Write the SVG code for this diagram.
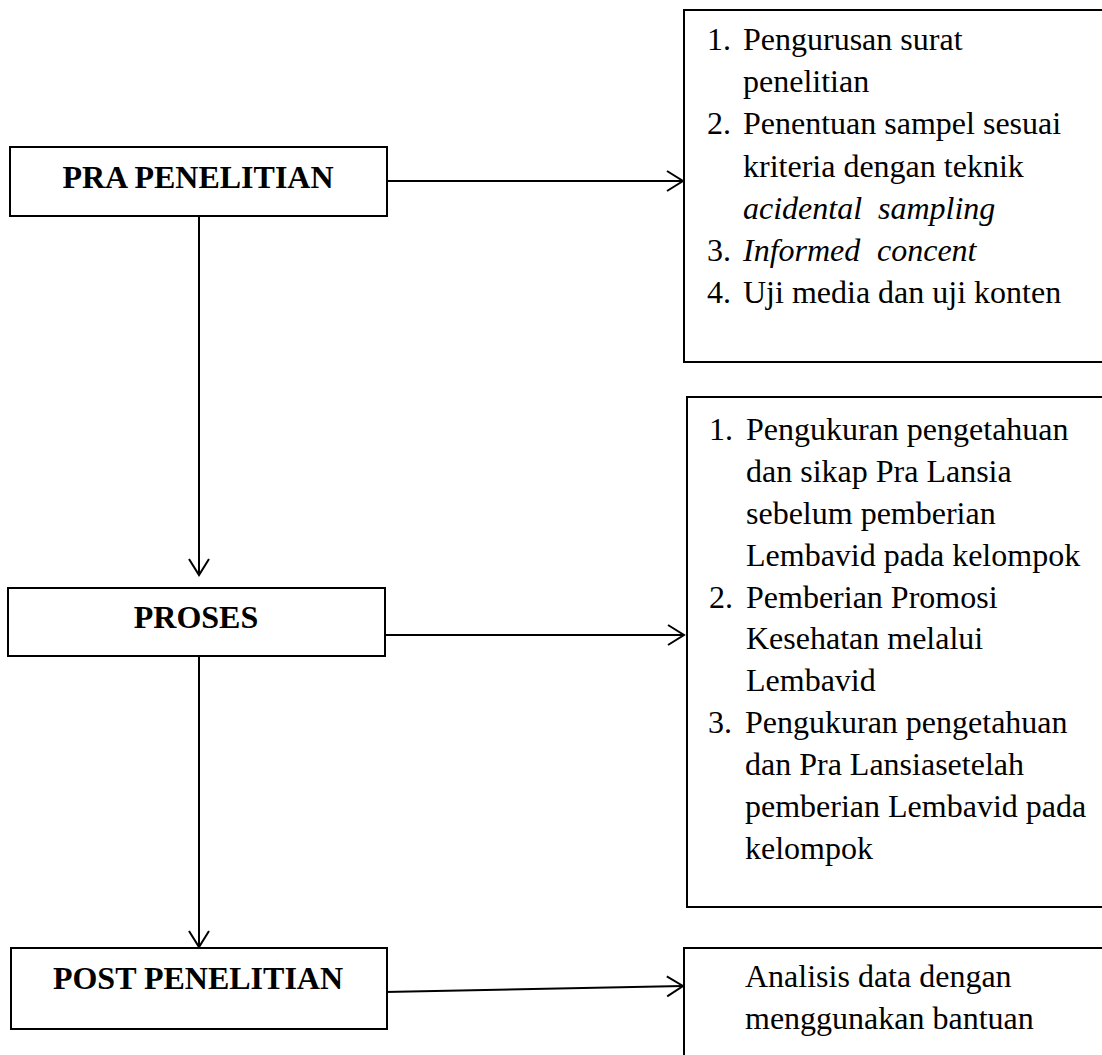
<svg xmlns="http://www.w3.org/2000/svg" width="1102" height="1055" viewBox="0 0 1102 1055">
<defs>
<style>
.box{fill:#fff;stroke:#000;stroke-width:2}
.lbl{font-family:"Liberation Serif","Times New Roman",serif;font-weight:bold;font-size:32px;fill:#000;text-anchor:middle}
.txt{font-family:"Liberation Serif","Times New Roman",serif;font-size:32px;fill:#000}
.it{font-style:italic}
.con{fill:none;stroke:#000;stroke-width:2}
</style>
<marker id="arr" markerUnits="userSpaceOnUse" markerWidth="24" markerHeight="24" viewBox="0 0 24 24" refX="20" refY="12" orient="auto">
<path d="M4,2 L20,12 L4,22" fill="none" stroke="#000" stroke-width="2"/>
</marker>
</defs>
<rect width="1102" height="1055" fill="#fff"/>

<g id="connectors">
<line class="con" x1="387" y1="181" x2="683" y2="181" marker-end="url(#arr)"/>
<line class="con" x1="199" y1="216" x2="199" y2="575" marker-end="url(#arr)"/>
<line class="con" x1="385" y1="635" x2="684" y2="635" marker-end="url(#arr)"/>
<line class="con" x1="199" y1="656" x2="199" y2="947" marker-end="url(#arr)"/>
<line class="con" x1="385" y1="992" x2="683" y2="986" marker-end="url(#arr)"/>
</g>

<g id="pra">
<rect class="box" x="10" y="147" width="377" height="69"/>
<text class="lbl" x="198" y="188">PRA PENELITIAN</text>
</g>

<g id="proses">
<rect class="box" x="8" y="588" width="377" height="68"/>
<text class="lbl" x="196" y="628">PROSES</text>
</g>

<g id="post">
<rect class="box" x="11" y="948" width="376" height="81"/>
<text class="lbl" x="198" y="989">POST PENELITIAN</text>
</g>

<g id="pra-detail">
<rect class="box" x="684" y="10" width="430" height="352"/>
<text class="txt" x="707" y="50">1.</text>
<text class="txt" x="743" y="50">Pengurusan surat</text>
<text class="txt" x="743" y="92">penelitian</text>
<text class="txt" x="707" y="134">2.</text>
<text class="txt" x="743" y="134">Penentuan sampel sesuai</text>
<text class="txt" x="743" y="177">kriteria dengan teknik</text>
<text class="txt it" x="743" y="219">acidental</text>
<text class="txt it" x="878" y="219">sampling</text>
<text class="txt" x="707" y="261">3.</text>
<text class="txt it" x="743" y="261">Informed</text>
<text class="txt it" x="877" y="261">concent</text>
<text class="txt" x="707" y="303">4.</text>
<text class="txt" x="743" y="303">Uji media dan uji konten</text>
</g>

<g id="proses-detail">
<rect class="box" x="687" y="397" width="427" height="510"/>
<text class="txt" x="709" y="440">1.</text>
<text class="txt" x="746" y="440">Pengukuran pengetahuan</text>
<text class="txt" x="746" y="482">dan sikap Pra Lansia</text>
<text class="txt" x="746" y="524">sebelum pemberian</text>
<text class="txt" x="746" y="566">Lembavid pada kelompok</text>
<text class="txt" x="709" y="608">2.</text>
<text class="txt" x="746" y="608">Pemberian Promosi</text>
<text class="txt" x="746" y="649">Kesehatan melalui</text>
<text class="txt" x="746" y="691">Lembavid</text>
<text class="txt" x="708" y="733">3.</text>
<text class="txt" x="745" y="733">Pengukuran pengetahuan</text>
<text class="txt" x="745" y="775">dan Pra Lansiasetelah</text>
<text class="txt" x="745" y="817">pemberian Lembavid pada</text>
<text class="txt" x="745" y="859">kelompok</text>
</g>

<g id="post-detail">
<rect class="box" x="684" y="948" width="430" height="130"/>
<text class="txt" x="745" y="987">Analisis data dengan</text>
<text class="txt" x="745" y="1029">menggunakan bantuan</text>
</g>
</svg>
